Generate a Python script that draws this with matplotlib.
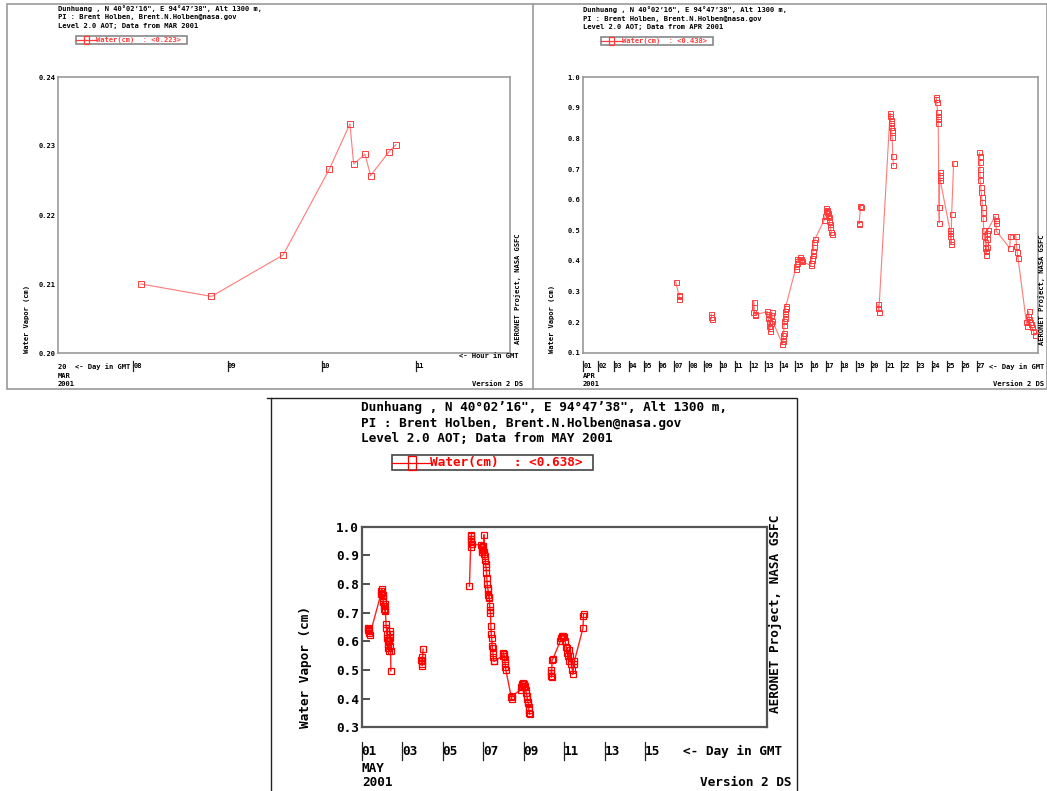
import numpy as np
import matplotlib
matplotlib.use("Agg")
import matplotlib.pyplot as plt
from matplotlib.patches import Rectangle
from matplotlib.lines import Line2D
from matplotlib.transforms import blended_transform_factory

# ---- data: March 20 (hour in GMT) ----
mar_hour = [8.08, 8.83, 9.59, 10.08, 10.30, 10.34, 10.46, 10.52, 10.71, 10.79]
mar_wv = [0.2100, 0.2082, 0.2142, 0.2266, 0.2332, 0.2274, 0.2288, 0.2257, 0.2291, 0.2302]

# ---- data: April (day in GMT), grp = connected line segment ----
apr_day = [7.10, 7.30, 7.32, 7.34,
           9.45, 9.46, 9.47,
           12.22, 12.25, 12.28, 12.31, 12.34,
           13.15, 13.18, 13.21, 13.24, 13.27, 13.30, 13.33, 13.36, 13.40, 13.44, 13.48,
           14.15, 14.17, 14.19, 14.21, 14.23, 14.25, 14.27, 14.29, 14.31, 14.33, 14.35, 14.37,
           15.02, 15.05, 15.08, 15.11, 15.14, 15.30, 15.34, 15.38, 15.42,
           16.02, 16.05, 16.08, 16.11, 16.14, 16.17, 16.20, 16.24, 16.28,
           16.92, 16.96, 17.00, 17.04, 17.07, 17.10, 17.13, 17.16, 17.20, 17.24, 17.28, 17.32, 17.36, 17.40,
           19.18, 19.21, 19.30, 19.33,
           20.45, 20.48, 20.51,
           21.25, 21.27, 21.29, 21.31, 21.33, 21.35, 21.37, 21.39, 21.43, 21.47,
           24.30, 24.31, 24.32, 24.40, 24.41, 24.42, 24.43, 24.48, 24.50, 24.53, 24.54, 24.55, 24.56,
           25.20, 25.22, 25.24, 25.26, 25.28, 25.32, 25.45,
           27.15, 27.16, 27.17, 27.18, 27.19, 27.20, 27.24, 27.27, 27.30, 27.33, 27.36, 27.38,
           27.40, 27.44, 27.48, 27.52, 27.55, 27.58, 27.60, 27.62, 27.65, 27.68, 27.70,
           28.20, 28.22, 28.24, 28.26,
           29.15, 29.20, 29.55, 29.60, 29.65, 29.70,
           30.25, 30.30, 30.35, 30.40, 30.45, 30.50, 30.55, 30.60, 30.70, 30.80]
apr_wv = [0.332, 0.290, 0.284, 0.277,
          0.226, 0.218, 0.211,
          0.234, 0.267, 0.250, 0.228, 0.223,
          0.235, 0.226, 0.214, 0.200, 0.186, 0.172, 0.180, 0.198, 0.222, 0.232, 0.205,
          0.128, 0.137, 0.148, 0.158, 0.166, 0.190, 0.203, 0.215, 0.226, 0.236, 0.245, 0.252,
          0.375, 0.382, 0.392, 0.400, 0.407, 0.412, 0.402, 0.407, 0.399,
          0.385, 0.394, 0.402, 0.410, 0.420, 0.432, 0.445, 0.462, 0.470,
          0.535, 0.548, 0.562, 0.572, 0.566, 0.560, 0.556, 0.550, 0.545, 0.532, 0.520, 0.510, 0.496, 0.488,
          0.523, 0.520, 0.578, 0.575,
          0.258, 0.245, 0.233,
          0.882, 0.875, 0.862, 0.850, 0.838, 0.828, 0.820, 0.805, 0.742, 0.712,
          0.935, 0.928, 0.920, 0.885, 0.875, 0.865, 0.850, 0.575, 0.525, 0.690, 0.682, 0.675, 0.665,
          0.502, 0.492, 0.480, 0.466, 0.456, 0.553, 0.721,
          0.755, 0.742, 0.722, 0.700, 0.683, 0.665, 0.640, 0.625, 0.610, 0.592, 0.575, 0.560,
          0.540, 0.502, 0.482, 0.462, 0.442, 0.432, 0.420, 0.445, 0.470, 0.490, 0.502,
          0.547, 0.535, 0.525, 0.498,
          0.442, 0.483, 0.483, 0.450, 0.428, 0.410,
          0.200, 0.188, 0.220, 0.235, 0.210, 0.200, 0.195, 0.185, 0.172, 0.158]
apr_grp = ([0] * 4 + [1] * 3 + [2] * 5 + [2] * 11 + [2] * 12 + [2] * 9 + [2] * 9 + [2] * 14
           + [3] * 4 + [4] * 3 + [4] * 10 + [5] * 13 + [5] * 7
           + [6] * 23 + [6] * 4 + [6] * 6 + [6] * 10)

# ---- data: May (day in GMT) ----
may_day = [1.30, 1.32, 1.34, 1.36, 1.38, 1.40,
           1.95, 1.97, 1.99, 2.01, 2.03, 2.05, 2.07, 2.09, 2.11, 2.13, 2.15, 2.17, 2.20, 2.22,
           2.24, 2.26, 2.28, 2.30, 2.32, 2.34, 2.36, 2.38, 2.40, 2.41, 2.42, 2.43, 2.44,
           3.95, 3.96, 3.97, 3.98, 3.99, 4.03,
           6.32, 6.38, 6.39, 6.40, 6.41, 6.42, 6.43,
           6.90, 6.92, 6.94, 6.96, 6.98, 7.00, 7.02, 7.04, 7.06, 7.08, 7.10, 7.12, 7.14, 7.16,
           7.18, 7.20, 7.22, 7.24, 7.26, 7.28, 7.30, 7.32, 7.34, 7.36, 7.38, 7.40, 7.42, 7.44,
           7.46, 7.48, 7.50, 7.52, 7.54,
           7.97, 8.00, 8.02, 8.04, 8.06, 8.08, 8.10, 8.12, 8.38, 8.40, 8.42,
           8.85, 8.88, 8.90, 8.93, 8.96, 9.00, 9.03, 9.06, 9.10, 9.13, 9.16, 9.18, 9.20, 9.22,
           9.24, 9.26, 9.28, 9.30,
           10.35, 10.36, 10.37, 10.38, 10.40, 10.45,
           10.80, 10.85, 10.90, 10.95, 11.00, 11.05, 11.10, 11.13, 11.16, 11.20, 11.23, 11.26,
           11.30, 11.33, 11.36, 11.40, 11.43, 11.47, 11.50, 11.93, 11.95, 11.96]
may_wv = [0.645, 0.640, 0.635, 0.642, 0.630, 0.622,
          0.765, 0.775, 0.782, 0.770, 0.760, 0.750, 0.738, 0.722, 0.712, 0.732, 0.705, 0.708, 0.660, 0.645,
          0.625, 0.610, 0.600, 0.590, 0.575, 0.565, 0.600, 0.625, 0.635, 0.612, 0.582, 0.565, 0.497,
          0.535, 0.545, 0.530, 0.520, 0.515, 0.573,
          0.792, 0.930, 0.945, 0.958, 0.968, 0.972, 0.940,
          0.935, 0.928, 0.920, 0.910, 0.932, 0.920, 0.905, 0.972, 0.910, 0.898, 0.885, 0.870, 0.860, 0.840,
          0.820, 0.800, 0.785, 0.780, 0.760, 0.750, 0.755, 0.722, 0.710, 0.698, 0.652, 0.625, 0.610, 0.585,
          0.575, 0.560, 0.545, 0.532, 0.530,
          0.550, 0.560, 0.555, 0.550, 0.540, 0.525, 0.510, 0.500, 0.407, 0.400, 0.410,
          0.430, 0.440, 0.445, 0.450, 0.455, 0.450, 0.440, 0.445, 0.430, 0.420, 0.410, 0.400, 0.390, 0.385,
          0.370, 0.360, 0.350, 0.345,
          0.500, 0.490, 0.480, 0.475, 0.535, 0.540,
          0.600, 0.610, 0.620, 0.620, 0.615, 0.600, 0.580, 0.560, 0.575, 0.550, 0.530, 0.570,
          0.550, 0.530, 0.520, 0.500, 0.485, 0.520, 0.530, 0.647, 0.690, 0.695]
may_grp = [0] * 33 + [1] * 6 + [2] * 7 + [2] * 33 + [2] * 11 + [2] * 18 + [3] * 28

header = ["Dunhuang , N 40°02’16\", E 94°47’38\", Alt 1300 m,",
          "PI : Brent Holben, Brent.N.Holben@nasa.gov"]
months = ["MAR", "APR", "MAY"]
means = [0.223, 0.438, 0.638]

W, H = 1047, 791
MONO = "DejaVu Sans Mono"
fig = plt.figure(figsize=(W / 100, H / 100), dpi=100)


def rect(l, t, r, b):
    return [l / W, 1 - b / H, (r - l) / W, (b - t) / H]


def ftext(x, y, s, fs, **kw):
    kw.setdefault("va", "center")
    fig.text(x / W, 1 - y / H, s, fontsize=fs, family=MONO, weight="bold", **kw)


def fline(xs, ys, **kw):
    fig.add_artist(Line2D([x / W for x in xs], [1 - y / H for y in ys], **kw))


def panel(box, x, y, grp, xlim, ylim, yticks, ylabfmt, xticks, xlabs, fs, ms, col, lcol,
          frame_col, frame_lw, tick_len):
    l, t, r, b = box
    ax = fig.add_axes(rect(l, t, r, b))
    x = np.asarray(x)
    y = np.asarray(y)
    grp = np.asarray(grp)
    for g in np.unique(grp):
        m = grp == g
        ax.plot(x[m], y[m], "-", color=lcol, lw=0.8 if fs < 7 else 1.0, zorder=2)
        ax.plot(x[m], y[m], "s", mfc="none", mec=col, ms=ms, mew=0.7 if fs < 7 else 0.9, zorder=3)
    ax.set_xlim(*xlim)
    ax.set_ylim(*ylim)
    ax.set_xticks([])
    ax.set_yticks(yticks)
    ax.set_yticklabels([ylabfmt.format(v) for v in yticks], family=MONO, weight="bold", fontsize=fs)
    ax.tick_params(axis="y", direction="in", length=tick_len, width=1.2, color="#333333", pad=2)
    for s in ax.spines.values():
        s.set_color(frame_col)
        s.set_linewidth(frame_lw)
    tr = blended_transform_factory(ax.transData, fig.transFigure)
    ylab = 1 - (b + fs * 2.6) / H
    bar = fs * 1.0
    for xt, lab in zip(xticks, xlabs):
        ax.plot([xt, xt], [1 - (b + fs * 2.6 - bar) / H, 1 - (b + fs * 2.6 + bar) / H],
                color="#222222", lw=0.9, transform=tr, clip_on=False)
        ax.text(xt, ylab, lab, transform=tr, family=MONO, weight="bold", fontsize=fs,
                ha="left", va="center")
    return ax


# ---------------- panel frames ----------------
fig.add_artist(Rectangle((7 / W, 1 - 389 / H), (W - 7) / W, (389 - 4) / H,
                         transform=fig.transFigure, fill=False, ec="#999999", lw=1.2))
fline([533, 533], [4, 389], color="#999999", lw=1.2)
fig.add_artist(Rectangle((271 / W, 1 - 800 / H), (797 - 271) / W, (800 - 398) / H,
                         transform=fig.transFigure, fill=False, ec="#222222", lw=1.0))
fline([267, 271], [398, 398], color="#222222", lw=1.0)

# ---------------- top left: MAR 2001 ----------------
fsS = 5.1
pcol = "#ff3b3b"
panel((58, 77, 510, 353), mar_hour, mar_wv, [0] * len(mar_hour), (7.2, 12.0), (0.20, 0.24),
      [0.20, 0.21, 0.22, 0.23, 0.24], "{:.2f}", [8, 9, 10, 11], ["08", "09", "10", "11"],
      fsS, 4.2, pcol, "#ff7a7a", "#999999", 1.2, 0)
ftext(58, 9, header[0], fsS)
ftext(58, 17.5, header[1], fsS)
ftext(58, 26, "Level 2.0 AOT; Data from MAR 2001", fsS)
ftext(459, 356, "<- Hour in GMT", fsS)
ftext(58, 366.5, "20  <- Day in GMT", fsS)
ftext(58, 375.5, months[0], fsS)
ftext(58, 384.5, "2001", fsS)
ftext(472, 384.5, "Version 2 DS", fsS)
ftext(27, 353, "Water Vapor (cm)", fsS, rotation=90, ha="center", va="bottom")
ftext(518, 289, "AERONET Project, NASA GSFC", fsS, rotation=90, ha="center")

# ---------------- top right: APR 2001 ----------------
panel((583.3, 77.3, 1037.7, 352.7), apr_day, apr_wv, apr_grp, (1, 31), (0.1, 1.0),
      [0.1, 0.2, 0.3, 0.4, 0.5, 0.6, 0.7, 0.8, 0.9, 1.0], "{:.1f}", list(range(1, 28)),
      ["{:02d}".format(d) for d in range(1, 28)], fsS, 3.6, pcol, "#ff7a7a", "#999999", 1.2, 0)
ftext(583, 10, header[0], fsS)
ftext(583, 18.5, header[1], fsS)
ftext(583, 27, "Level 2.0 AOT; Data from APR 2001", fsS)
ftext(989, 366.5, "<- Day in GMT", fsS)
ftext(583, 375.5, months[1], fsS)
ftext(583, 384.5, "2001", fsS)
ftext(1044, 384.5, "Version 2 DS", fsS, ha="right")
ftext(552, 353, "Water Vapor (cm)", fsS, rotation=90, ha="center", va="bottom")
ftext(1042, 290, "AERONET Project, NASA GSFC", fsS, rotation=90, ha="center")

# ---------------- bottom: MAY 2001 ----------------
fsL = 9.2
panel((361.7, 526.7, 766.7, 727.3), may_day, may_wv, may_grp, (1, 21), (0.3, 1.0),
      [0.3, 0.4, 0.5, 0.6, 0.7, 0.8, 0.9, 1.0], "{:.1f}", [1, 3, 5, 7, 9, 11, 13, 15],
      ["01", "03", "05", "07", "09", "11", "13", "15"], fsL, 5.0, "#ff0000", "#ff2020",
      "#555555", 1.6, 6)
ftext(361, 408, header[0], fsL)
ftext(361, 423, header[1], fsL)
ftext(361, 438, "Level 2.0 AOT; Data from MAY 2001", fsL)
ftext(683, 751, "<- Day in GMT", fsL)
ftext(362, 768, months[2], fsL)
ftext(362, 783, "2001", fsL)
ftext(700, 783, "Version 2 DS", fsL)
ftext(306, 728, "Water Vapor (cm)", fsL, rotation=90, ha="center", va="bottom")
ftext(775, 614, "AERONET Project, NASA GSFC", fsL, rotation=90, ha="center")


# ---------------- legends ----------------
def legend(l, t, r, b, mark_x, mark_w, text_x, text, fs, col, ecol):
    fig.add_artist(Rectangle((l / W, 1 - b / H), (r - l) / W, (b - t) / H,
                             transform=fig.transFigure, fill=False, ec=ecol, lw=1.2))
    ym = (t + b) / 2
    fline([l, text_x], [ym, ym], color=col, lw=0.9)
    fig.add_artist(Rectangle(((mark_x - mark_w / 2) / W, 1 - (b - 0.5) / H), mark_w / W,
                             (b - t - 1) / H, transform=fig.transFigure, fill=False,
                             ec=col, lw=0.9))
    fig.text(text_x / W, 1 - ym / H, text, fontsize=fs, family=MONO, weight="bold",
             color=col, va="center", ha="left")


legend(76, 36, 187.3, 44.3, 86, 5, 96.5, "Water(cm)  : <%.3f>" % means[0], fsS, pcol, "#888888")
legend(601, 37, 713.3, 45, 611, 5, 621.5, "Water(cm)  : <%.3f>" % means[1], fsS, pcol, "#888888")
legend(392.3, 455, 592.7, 470, 411.7, 8, 430, "Water(cm)  : <%.3f>" % means[2], fsL,
       "#ff0000", "#444444")

fig.savefig("out.png", dpi=100)
